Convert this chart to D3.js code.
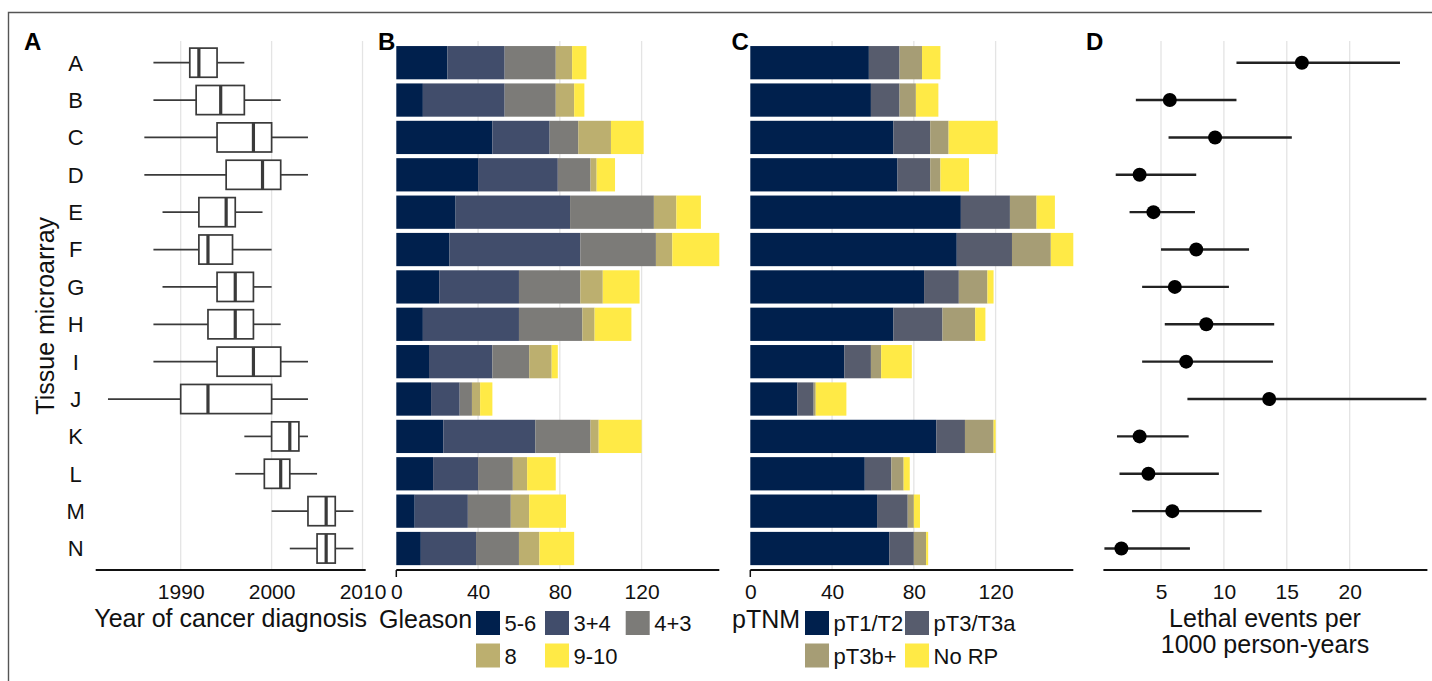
<!DOCTYPE html>
<html>
<head>
<meta charset="utf-8">
<script src="https://cdn.jsdelivr.net/npm/d3@7/dist/d3.min.js"></script>
<style>
  html, body { margin: 0; padding: 0; background: #fff; }
  svg { display: block; font-family: "Liberation Sans", Arial, Helvetica, sans-serif; }
</style>
</head>
<body>
<svg id="fig" width="1432" height="681"></svg>
<script>
// Tissue microarrays (rows, top to bottom)
const tmas = ["A","B","C","D","E","F","G","H","I","J","K","L","M","N"];

// Year of cancer diagnosis: box-plot summaries per TMA
const yearMin    = [1987, 1987,   1986, 1986, 1988, 1987,   1988, 1987, 1987, 1982, 1997, 1996,   2000, 2002];
const yearQ1     = [1991, 1991.7, 1994, 1995, 1992, 1992,   1994, 1993, 1994, 1990, 2000, 1999.2, 2004, 2005];
const yearMedian = [1992, 1994.4, 1998, 1999, 1995, 1993,   1996, 1996, 1998, 1993, 2002, 2001,   2006, 2006];
const yearQ3     = [1994, 1997,   2000, 2001, 1996, 1995.7, 1998, 1998, 2001, 2000, 2003, 2002,   2007, 2007];
const yearMax    = [1997, 2001,   2004, 2004, 1999, 2000,   2000, 2001, 2004, 2004, 2004, 2005,   2009, 2009];
const yearTicks  = [1990, 2000, 2010];

// Gleason score counts per TMA
const gleasonLevels = ["5-6", "3+4", "4+3", "8", "9-10"];
const gleason56  = [25, 13, 47, 40, 29, 26, 21, 13, 16, 17, 23, 18,  9, 12];
const gleason34  = [28, 40, 28, 39, 56, 64, 39, 47, 31, 14, 45, 22, 26, 27];
const gleason43  = [25, 25, 14, 16, 41, 37, 30, 31, 18,  6, 27, 17, 21, 21];
const gleason8   = [ 8,  9, 16,  3, 11,  8, 11,  6, 11,  4,  4,  7,  9, 10];
const gleason910 = [ 7,  5, 16,  9, 12, 23, 18, 18,  3,  6, 21, 14, 18, 17];

// Pathological stage counts per TMA
const stageLevels = ["pT1/T2", "pT3/T3a", "pT3b+", "No RP"];
const stageT12   = [58, 59, 70, 72, 103, 101, 85, 70, 46, 23, 91, 56, 62, 68];
const stageT3a   = [15, 14, 18, 16,  24,  27, 17, 24, 13,  8, 14, 13, 15, 12];
const stageT3b   = [11,  8,  9,  5,  13,  19, 14, 16,  5,  1, 14,  6,  3,  6];
const stageNoRP  = [ 9, 11, 24, 14,   9,  11,  3,  5, 15, 15,  1,  3,  3,  1];
const countTicks = [0, 40, 80, 120];

// Lethal events per 1000 person-years with 95% CI
const lethalRate = [16.2, 5.7, 9.3, 3.3, 4.4, 7.8, 6.1, 8.6, 7.0, 13.6, 3.3, 4.0, 5.9, 1.85];
const lethalLow  = [11.0, 3.0, 5.6, 1.4, 2.5, 5.0, 3.5, 5.3, 3.5,  7.1, 1.5, 1.7, 2.7, 0.5];
const lethalHigh = [24.0, 11.0, 15.4, 7.8, 7.7, 12.0, 10.4, 14.0, 13.9, 26.1, 7.2, 9.6, 13.0, 7.3];
const rateTicks  = [5, 10, 15, 20];

// cividis palettes
const gleasonColors = ["#00204D", "#414D6B", "#7C7B78", "#BCAF6F", "#FFEA46"];
const stageColors   = ["#00204D", "#575C6D", "#A69D75", "#FFEA46"];

const svg = d3.select("#fig");
const ink = "#111";
const gridColor = "#e4e4e4";
const gridTop = 41, axisY = 570;
const titleSize = 25, tickSize = 21, labelSize = 22;

// outer frame (left and top edges)
svg.append("path")
  .attr("d", "M8.5,681 L8.5,12.5 L1432,12.5")
  .attr("fill", "none").attr("stroke", "#555").attr("stroke-width", 1.4);

const rows = d3.scaleBand().domain(tmas).range([44, 567.2]).paddingInner(0.11).paddingOuter(0.055);
const rowMid = t => rows(t) + rows.bandwidth() / 2;

function panelLetter(txt, x) {
  svg.append("text").attr("x", x).attr("y", 49.5)
    .attr("font-size", 24).attr("font-weight", "bold").attr("fill", "#000").text(txt);
}

function grid(scale, ticks) {
  svg.append("g").selectAll("line").data(ticks).join("line")
    .attr("x1", d => scale(d)).attr("x2", d => scale(d))
    .attr("y1", gridTop).attr("y2", axisY)
    .attr("stroke", gridColor).attr("stroke-width", 1.3);
}

function bottomAxis(scale, ticks, ext) {
  const g = svg.append("g").attr("transform", `translate(0,${axisY})`)
    .call(d3.axisBottom(scale).tickValues(ticks).tickSize(0).tickPadding(14).tickFormat(d3.format("d")));
  g.select(".domain").remove();
  g.selectAll("text").attr("font-size", tickSize).attr("fill", ink).attr("font-family", null);
  const [r0, r1] = scale.range();
  g.append("line").attr("x1", r0 - (ext || 0)).attr("x2", r1 + (ext || 0))
    .attr("stroke", ink).attr("stroke-width", 2);
  return g;
}

// ---------- Panel A: year of diagnosis ----------
const allYears = yearMin.concat(yearMax);
const yLo = d3.min(allYears), yHi = d3.max(allYears), yPad = (yHi - yLo) * 0.05;
const xYear = d3.scaleLinear().domain([yLo - yPad, yHi + yPad]).range([95.7, 365.7]);
grid(xYear, yearTicks);

const boxH = rows.step() * 0.78;
const boxStroke = "#3a3a3a";
const boxes = svg.append("g").selectAll("g").data(tmas).join("g");
boxes.append("line")
  .attr("x1", (d, i) => xYear(yearMin[i])).attr("x2", (d, i) => xYear(yearQ1[i]))
  .attr("y1", rowMid).attr("y2", rowMid).attr("stroke", boxStroke).attr("stroke-width", 1.7);
boxes.append("line")
  .attr("x1", (d, i) => xYear(yearQ3[i])).attr("x2", (d, i) => xYear(yearMax[i]))
  .attr("y1", rowMid).attr("y2", rowMid).attr("stroke", boxStroke).attr("stroke-width", 1.7);
boxes.append("rect")
  .attr("x", (d, i) => xYear(yearQ1[i])).attr("width", (d, i) => xYear(yearQ3[i]) - xYear(yearQ1[i]))
  .attr("y", d => rowMid(d) - boxH / 2).attr("height", boxH)
  .attr("fill", "#fff").attr("stroke", boxStroke).attr("stroke-width", 1.7);
boxes.append("line")
  .attr("x1", (d, i) => xYear(yearMedian[i])).attr("x2", (d, i) => xYear(yearMedian[i]))
  .attr("y1", d => rowMid(d) - boxH / 2).attr("y2", d => rowMid(d) + boxH / 2)
  .attr("stroke", boxStroke).attr("stroke-width", 3.2);

bottomAxis(xYear, yearTicks);
svg.append("text").attr("x", (xYear.range()[0] + xYear.range()[1]) / 2).attr("y", 627)
  .attr("text-anchor", "middle").attr("font-size", titleSize).attr("fill", ink).text("Year of cancer diagnosis");

// row labels and y title
svg.append("g").selectAll("text").data(tmas).join("text")
  .attr("x", 75.7).attr("y", rowMid).attr("dy", "0.36em")
  .attr("text-anchor", "middle").attr("font-size", labelSize).attr("fill", ink).text(d => d);
svg.append("text").attr("transform", "translate(54,315.8) rotate(-90)")
  .attr("text-anchor", "middle").attr("font-size", titleSize).attr("fill", ink).text("Tissue microarray");
panelLetter("A", 24);

// ---------- stacked bar panels ----------
function stackedPanel(letter, letterX, range, levels, series, colors, legendTitle, legendTitleX, legendCols) {
  const totals = tmas.map((t, i) => d3.sum(series, s => s[i]));
  const x = d3.scaleLinear().domain([0, d3.max(totals)]).range(range);
  grid(x, countTicks.filter(d => d > 0));

  const table = tmas.map((t, i) => {
    const o = { tma: t };
    levels.forEach((lv, k) => { o[lv] = series[k][i]; });
    return o;
  });
  const stacked = d3.stack().keys(levels)(table);
  svg.append("g").selectAll("g").data(stacked).join("g")
    .attr("fill", (d, k) => colors[k])
    .selectAll("rect").data(d => d).join("rect")
    .attr("x", d => x(d[0])).attr("width", d => x(d[1]) - x(d[0]))
    .attr("y", d => rows(d.data.tma)).attr("height", rows.bandwidth());

  const ax = bottomAxis(x, countTicks);
  ax.append("line").attr("x1", x(0)).attr("x2", x(0)).attr("y1", 0).attr("y2", 7)
    .attr("stroke", ink).attr("stroke-width", 1.5);

  panelLetter(letter, letterX);

  // legend
  svg.append("text").attr("x", legendTitleX).attr("y", 627.5)
    .attr("font-size", titleSize).attr("fill", ink).text(legendTitle);
  const lg = svg.append("g");
  levels.forEach((lv, k) => {
    const col = k % legendCols.length, row = Math.floor(k / legendCols.length);
    const sx = legendCols[col], sy = 611 + row * 32.5;
    lg.append("rect").attr("x", sx).attr("y", sy).attr("width", 24).attr("height", 24)
      .attr("fill", colors[k]);
    lg.append("text").attr("x", sx + 28.5).attr("y", sy + 20)
      .attr("font-size", labelSize).attr("fill", ink).text(lv);
  });
}

stackedPanel("B", 378, [396.3, 719.3], gleasonLevels,
  [gleason56, gleason34, gleason43, gleason8, gleason910], gleasonColors,
  "Gleason", 379, [476, 545, 625.7]);

stackedPanel("C", 731.5, [750.3, 1073.3], stageLevels,
  [stageT12, stageT3a, stageT3b, stageNoRP], stageColors,
  "pTNM", 732, [805, 905]);

// ---------- Panel D: lethal event rates ----------
const xRate = d3.scaleLinear().domain([d3.min(lethalLow), d3.max(lethalHigh)]).range([1104.4, 1426.4]);
grid(xRate, rateTicks);
const pts = svg.append("g").selectAll("g").data(tmas).join("g");
pts.append("line")
  .attr("x1", (d, i) => xRate(lethalLow[i])).attr("x2", (d, i) => xRate(lethalHigh[i]))
  .attr("y1", rowMid).attr("y2", rowMid).attr("stroke", "#222").attr("stroke-width", 2.4);
pts.append("circle")
  .attr("cx", (d, i) => xRate(lethalRate[i])).attr("cy", rowMid).attr("r", 7)
  .attr("fill", "#000");
bottomAxis(xRate, rateTicks, 1);
const dTitle = svg.append("text").attr("text-anchor", "middle").attr("font-size", titleSize).attr("fill", ink);
dTitle.append("tspan").attr("x", 1265).attr("y", 627).text("Lethal events per");
dTitle.append("tspan").attr("x", 1265).attr("y", 653).text("1000 person-years");
panelLetter("D", 1086);
</script>
</body>
</html>
